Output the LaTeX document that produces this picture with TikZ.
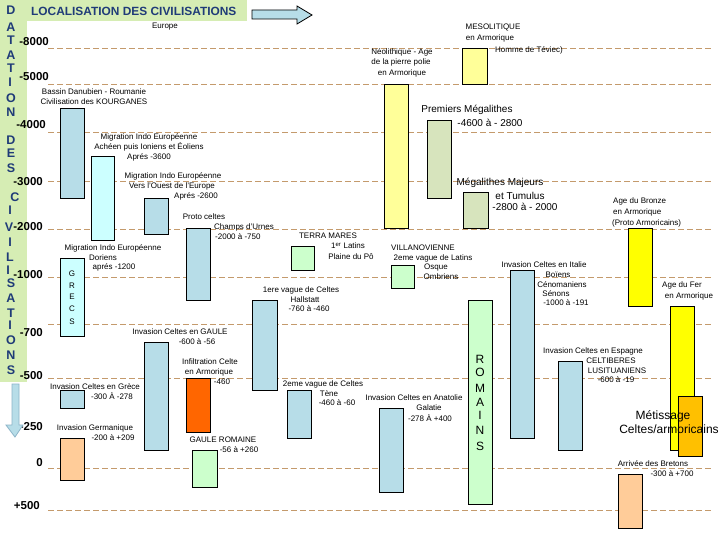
\documentclass[tikz,border=0pt]{standalone}
\usepackage{fontspec}
\setmainfont{Liberation Sans}
\definecolor{cBlue}{HTML}{B7DDE8}
\definecolor{cCyan}{HTML}{CCFFFF}
\definecolor{cLYel}{HTML}{FFFF99}
\definecolor{cKhaki}{HTML}{D7E4BD}
\definecolor{cLGreen}{HTML}{CCFFCC}
\definecolor{cYel}{HTML}{FFFF00}
\definecolor{cGold}{HTML}{FFC000}
\definecolor{cRed}{HTML}{FF6600}
\definecolor{cPeach}{HTML}{FFCC99}
\definecolor{cBand}{HTML}{D6EDB4}
\definecolor{cNavy}{HTML}{1F3B78}
\definecolor{cDash}{HTML}{C49A6C}
\definecolor{cArrowEdge}{HTML}{8CB4C8}
\begin{document}
\begin{tikzpicture}[x=1pt,y=-1pt,
  bx/.style={draw=black, line width=0.8pt},
  lbl/.style={font=\fontsize{8}{9}\selectfont, inner sep=0pt},
  lblw/.style={lbl, anchor=west},
  big/.style={font=\fontsize{10}{11}\selectfont, inner sep=0pt},
  huge/.style={font=\fontsize{12}{13}\selectfont, inner sep=0pt},
  yr/.style={font=\fontsize{11.5}{12}\selectfont\bfseries, inner sep=0pt, anchor=east},
  col/.style={font=\fontsize{12.5}{13}\selectfont\bfseries, text=cNavy, inner sep=0pt},
  gridline/.style={draw=cDash, dash pattern=on 6pt off 3pt, line width=0.9pt},
  vlet/.style={font=\fontsize{8}{9}\selectfont, inner sep=0pt},
  vbig/.style={font=\fontsize{12}{13}\selectfont, inner sep=0pt}
]
\useasboundingbox (0,0) rectangle (720,540);
\fill[white] (0,0) rectangle (720,540);
% green bands
\fill[cBand] (0,0) rectangle (27,382);
\fill[cBand] (0,0) rectangle (247,21);
% dashed grid
\foreach \yy in {48,84,132,181,229,277,324,378,468,510}
  \draw[gridline] (48,\yy) -- (712,\yy);
% title
\node[font=\fontsize{11.9}{13}\selectfont\bfseries, text=cNavy, inner sep=0pt, anchor=west] (title) at (31,11) {LOCALISATION DES CIVILISATIONS};
% top arrow
\draw[fill=cBlue, draw=black, line width=0.8pt] (252,10) -- (297,10) -- (297,6) -- (312,15) -- (297,24) -- (297,19) -- (252,19) -- cycle;
% column letters
\foreach \ll/\yy/\xx in {D/10/11,A/27/11,T/40/11,A/55/11,T/68/11,I/82/10,O/98/11,N/112/11,D/140/11,E/153/11,S/168/11,C/197/15,I/210/10,V/227/9,I/242/10,L/257/10,I/270/8,S/283/11,A/298/11,T/313/11,I/325/10,O/340/11,N/355/11,S/370/11}
  \node[col] at (\xx,\yy) {\ll};
% year labels
\node[yr] (y8000) at (49,42) {-8000};
\node[yr] (y5000) at (49,77) {-5000};
\node[yr] (y4000) at (46,125) {-4000};
\node[yr] (y3000) at (43,182) {-3000};
\node[yr] (y2000) at (43,227) {-2000};
\node[yr] (y1000) at (43,275) {-1000};
\node[yr] (y700) at (43,333) {-700};
\node[yr] (y500) at (43,376) {-500};
\node[yr] (y250) at (43,427) {-250};
\node[yr] (y0) at (43,463) {0};
\node[yr] (yp500) at (40,506) {+500};
% down arrow
\draw[fill=cBlue, draw=cArrowEdge, line width=0.8pt] (12,384) -- (19,384) -- (19,425) -- (23,425) -- (15,437) -- (6,425) -- (12,425) -- cycle;
% boxes
\draw[bx, fill=cBlue]   (60,108) rectangle (84,198);
\draw[bx, fill=cCyan]   (91,156) rectangle (114,240);
\draw[bx, fill=cBlue]   (144,198) rectangle (168,234);
\draw[bx, fill=cBlue]   (186,228) rectangle (210,300);
\draw[bx, fill=cCyan]   (60,258) rectangle (84,336);
\draw[bx, fill=cLYel]   (384,84) rectangle (408,228);
\draw[bx, fill=cLYel]   (462,48) rectangle (487,84);
\draw[bx, fill=cKhaki]  (427,120) rectangle (451,198);
\draw[bx, fill=cKhaki]  (463,192) rectangle (488,228);
\draw[bx, fill=cLGreen] (291,246) rectangle (314,270);
\draw[bx, fill=cLGreen] (391,265) rectangle (414,288);
\draw[bx, fill=cBlue]   (510,270) rectangle (534,438);
\draw[bx, fill=cYel]    (628,228) rectangle (652,306);
\draw[bx, fill=cYel]    (670,306) rectangle (694,450);
\draw[bx, fill=cGold]   (678,396) rectangle (702,456);
\draw[bx, fill=cLGreen] (468,300) rectangle (492,504);
\draw[bx, fill=cBlue]   (558,361) rectangle (582,450);
\draw[bx, fill=cPeach]  (618,474) rectangle (642,528);
\draw[bx, fill=cBlue]   (379,408) rectangle (403,492);
\draw[bx, fill=cBlue]   (287,390) rectangle (311,438);
\draw[bx, fill=cBlue]   (252,300) rectangle (277,390);
\draw[bx, fill=cBlue]   (144,342) rectangle (168,450);
\draw[bx, fill=cRed]    (186,378) rectangle (210,432);
\draw[bx, fill=cBlue]   (60,390) rectangle (84,408);
\draw[bx, fill=cPeach]  (60,438) rectangle (84,480);
\draw[bx, fill=cLGreen] (192,450) rectangle (217,487);
% vertical texts in boxes
\foreach \ll/\yy in {G/274,R/286,E/297,C/309,S/322}
  \node[vlet] at (72,\yy) {\ll};
\foreach \ll/\yy in {R/359,O/372,M/388,A/402,I/415,N/430,S/446}
  \node[vbig] at (480,\yy) {\ll};
% labels
\node[lbl] (europe) at (165,27) {Europe};
\node[lbl] (bas1) at (94,92) {Bassin Danubien - Roumanie};
\node[lbl] (bas2) at (94,102) {Civilisation des KOURGANES};
\node[lbl] (ach1) at (149,137) {Migration Indo Européenne};
\node[lbl] (ach2) at (149,147) {Achéen puis Ioniens et Éoliens};
\node[lbl] (ach3) at (149,157) {Aprés -3600};
\node[lbl] (oue1) at (173,176) {Migration Indo Européenne};
\node[lbl] (oue2) at (172,186) {Vers l'Ouest de l'Europe};
\node[lbl] (oue3) at (196,196) {Aprés -2600};
\node[lbl] (pro1) at (204,217) {Proto celtes};
\node[lblw] (pro2) at (214,227) {Champs d'Urnes};
\node[lblw] (pro3) at (215,237) {-2000 à -750};
\node[lbl] (dor1) at (113,248) {Migration Indo Européenne};
\node[lbl] (dor2) at (103,258) {Doriens};
\node[lbl] (dor3) at (114,267) {aprés -1200};
\node[lbl] (neo1) at (402,52) {Néolithique - Age};
\node[lbl] (neo2) at (401,62) {de la pierre polie};
\node[lbl] (neo3) at (402,73) {en Armorique};
\node[lbl] (mes1) at (493,27) {MESOLITIQUE};
\node[lbl] (mes2) at (490,38) {en Armorique};
\node[lbl] (mes3) at (529,50) {Homme de Téviec)};
\node[big] (pm1) at (467,110) {Premiers Mégalithes};
\node[big] (pm2) at (490,123) {-4600 à - 2800};
\node[big] (mm1) at (500,183) {Mégalithes Majeurs};
\node[big] (mm2) at (520,196) {et Tumulus};
\node[big] (mm3) at (525,207) {-2800 à - 2000};
\node[lbl] (ter1) at (328,236) {TERRA MARES};
\node[lbl] (ter2) at (348,246) {1\textsuperscript{er} Latins};
\node[lbl] (ter3) at (351,257) {Plaine du Pô};
\node[lbl] (vil1) at (423,248) {VILLANOVIENNE};
\node[lbl] (vil2) at (433,258) {2eme vague de Latins};
\node[lbl] (vil3) at (436,268) {Osque};
\node[lbl] (vil4) at (441,277) {Ombriens};
\node[lbl] (ita1) at (544,265) {Invasion Celtes en Italie};
\node[lbl] (ita2) at (558,275) {Boïens};
\node[lbl] (ita3) at (562,284.5) {Cénomaniens};
\node[lbl] (ita4) at (556,294) {Sénons};
\node[lbl] (ita5) at (566,303) {-1000 à -191};
\node[lblw] (bro1) at (613,201) {Age du Bronze};
\node[lblw] (bro2) at (613,212) {en Armorique};
\node[lblw] (bro3) at (612,223) {(Proto Armoricains)};
\node[lbl] (fer1) at (682,285) {Age du Fer};
\node[lbl] (fer2) at (689,296) {en Armorique};
\node[huge] (met1) at (663,416) {Métissage};
\node[huge] (met2) at (669,429) {Celtes/armoricains};
\node[lbl] (esp1) at (593,351) {Invasion Celtes en Espagne};
\node[lbl] (esp2) at (611,361) {CELTIBERES};
\node[lbl] (esp3) at (617,371) {LUSITUANIENS};
\node[lbl] (esp4) at (616,379.5) {-600 à -19};
\node[lbl] (bre1) at (653,464) {Arrivée des Bretons};
\node[lbl] (bre2) at (672,474) {-300 à +700};
\node[lbl] (ana1) at (414,398) {Invasion Celtes en Anatolie};
\node[lbl] (ana2) at (429,408) {Galatie};
\node[lbl] (ana3) at (430,418) {-278 À +400};
\node[lbl] (ten1) at (323,384) {2eme vague de Celtes};
\node[lbl] (ten2) at (329,394) {Tène};
\node[lbl] (ten3) at (337,403) {-460 à -60};
\node[lbl] (hal1) at (301,290) {1ere vague de Celtes};
\node[lbl] (hal2) at (305,300) {Hallstatt};
\node[lbl] (hal3) at (309,309) {-760 à -460};
\node[lbl] (gau1) at (180,332) {Invasion Celtes en GAULE};
\node[lbl] (gau2) at (197,342) {-600 à -56};
\node[lbl] (inf1) at (210,362) {Infiltration Celte};
\node[lbl] (inf2) at (209,372) {en Armorique};
\node[lbl] (inf3) at (222,382) {-460};
\node[lbl] (gre1) at (95,387) {Invasion Celtes en Grèce};
\node[lbl] (gre2) at (112,396) {-300 À -278};
\node[lbl] (ger1) at (95,428) {Invasion Germanique};
\node[lbl] (ger2) at (113,438) {-200 à +209};
\node[lbl] (gr1) at (223,440) {GAULE ROMAINE};
\node[lbl] (gr2) at (239,450) {-56 à +260};
\end{tikzpicture}
\end{document}
